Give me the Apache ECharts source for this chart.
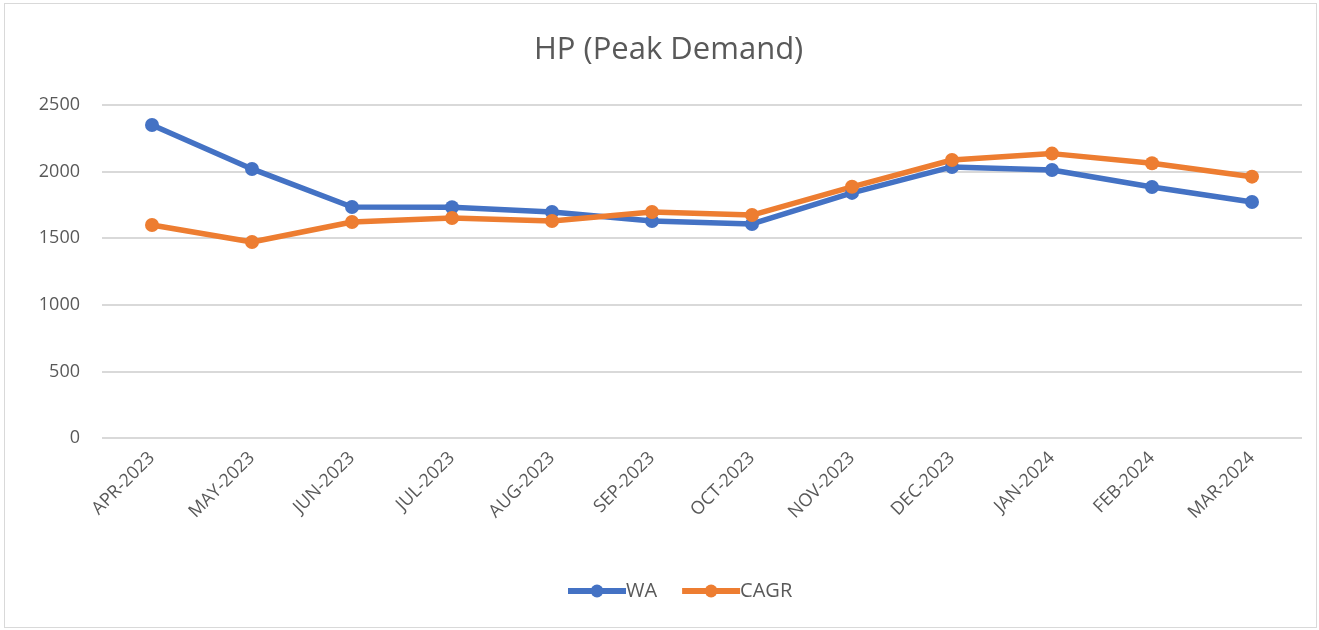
<!DOCTYPE html>
<html>
<head>
<meta charset="utf-8">
<script src="https://cdn.jsdelivr.net/npm/echarts@6/dist/echarts.min.js"></script>
<style>
  html, body { margin: 0; padding: 0; background: #fff; }
  #frame { position: absolute; left: 4px; top: 3px; width: 1313px; height: 625px; border: 1px solid #d9d9d9; box-sizing: border-box; }
  #chart { position: absolute; left: 0; top: 0; width: 1319px; height: 630px; }
</style>
</head>
<body>
<div id="frame"></div>
<div id="chart"></div>
<script>
let months = ["APR-2023", "MAY-2023", "JUN-2023", "JUL-2023", "AUG-2023", "SEP-2023",
              "OCT-2023", "NOV-2023", "DEC-2023", "JAN-2024", "FEB-2024", "MAR-2024"];
let wa   = [2350, 2020, 1734, 1732, 1697, 1629, 1607, 1840, 2035, 2012, 1884, 1772];
let cagr = [1599, 1471, 1622, 1652, 1629, 1697, 1674, 1886, 2087, 2135, 2063, 1962];

let textColor = "#595959";

let option = {
    color: ["#4472c4", "#ed7d31"],
    textStyle: { fontFamily: "Open Sans" },
    title: {
        text: "HP (Peak Demand)",
        left: 529,
        top: 30,
        textStyle: { color: textColor, fontSize: 31, fontWeight: "normal", fontFamily: "Open Sans" }
    },
    legend: {
        bottom: 24,
        left: 560,
        itemWidth: 58,
        itemHeight: 16,
        itemGap: 22,
        lineStyle: { width: 6 },
        textStyle: { color: textColor, fontSize: 20, padding: [0, 0, 0, -5] },
        data: ["WA", "CAGR"]
    },
    grid: { left: 102, right: 17, top: 105, bottom: 192, containLabel: false },
    xAxis: {
        type: "category",
        data: months,
        boundaryGap: true,
        axisLine: { show: false },
        axisTick: { show: false },
        axisLabel: { color: textColor, fontSize: 18, rotate: 45, margin: 17, interval: 0 }
    },
    yAxis: {
        type: "value",
        min: 0,
        max: 2500,
        interval: 500,
        axisLine: { show: false },
        axisTick: { show: false },
        axisLabel: { color: textColor, fontSize: 18, margin: 22, formatter: function (v) { return String(v); } },
        splitLine: { lineStyle: { color: "#d9d9d9", width: 2 } }
    },
    series: [
        {
            name: "WA",
            type: "line",
            data: wa,
            symbol: "circle",
            symbolSize: 14,
            lineStyle: { width: 5.5 },
            itemStyle: { color: "#4472c4" }
        },
        {
            name: "CAGR",
            type: "line",
            data: cagr,
            symbol: "circle",
            symbolSize: 14,
            lineStyle: { width: 5.5 },
            itemStyle: { color: "#ed7d31" }
        }
    ]
};

let chart = echarts.init(document.getElementById("chart"));
chart.setOption(option);
</script>
</body>
</html>
